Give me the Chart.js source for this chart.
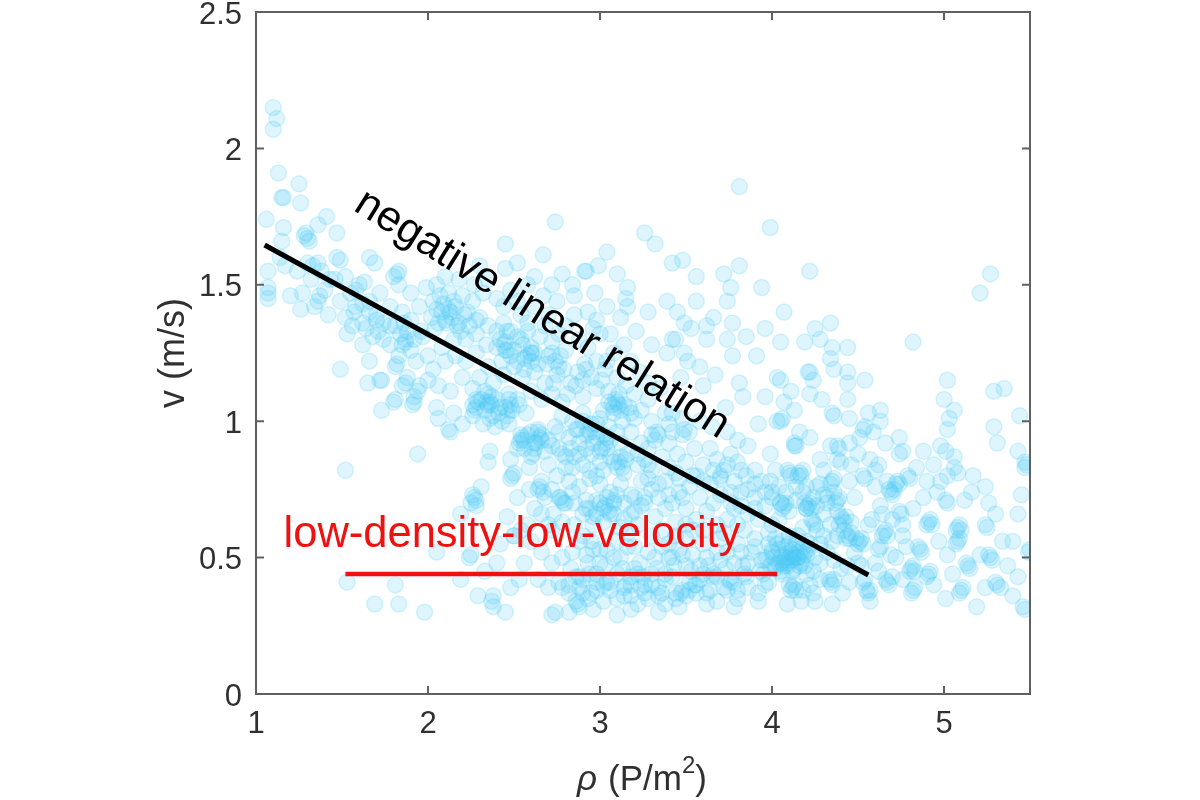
<!DOCTYPE html>
<html><head><meta charset="utf-8">
<script src="https://cdn.jsdelivr.net/npm/chart.js@4"></script>
<style>html,body{margin:0;background:#fff}#w{width:1200px;height:800px}canvas{filter:blur(0.5px)}</style></head>
<body><div id="w"><canvas id="c" width="1200" height="800"></canvas></div>
<script>
const xTicks=[1,2,3,4,5];
const yTicks=[0,0.5,1,1.5,2,2.5];
const fitLine=[[1.05,1.646],[4.56,0.436]];
const lowLine=[[1.52,0.44],[4.03,0.44]];

const rhoTopLeft=[1.10,1.12,1.10,1.13,1.25,1.16,1.15,1.26,1.06,1.16,
1.41,1.36,1.47,1.28,1.30,1.29,1.31,1.15,1.07,1.07,
1.07,1.07,1.17,1.14,1.20,1.27,1.26,1.36,1.34,1.37,
1.36,1.33,1.49,1.47,1.49,1.63,1.60,1.66,1.69,1.82,
1.80,1.83,1.53,1.62,1.62,1.74,1.71,1.87,1.85,1.97,
1.24,1.30,1.38,1.43,1.52,1.55,1.58,1.42,1.52,1.57,
1.66,1.72,1.78,1.70,1.78,1.68];
const vTopLeft=[2.15,2.11,2.07,1.91,1.87,1.82,1.82,1.80,1.74,1.71,
1.75,1.72,1.69,1.68,1.67,1.69,1.66,1.66,1.55,1.45,
1.47,1.49,1.57,1.60,1.46,1.47,1.41,1.44,1.42,1.46,
1.58,1.57,1.59,1.60,1.44,1.51,1.50,1.60,1.58,1.54,
1.53,1.55,1.32,1.36,1.28,1.30,1.33,1.30,1.28,1.31,
1.55,1.58,1.55,1.52,1.53,1.47,1.42,1.39,1.38,1.40,
1.44,1.47,1.42,1.37,1.35,1.31];

const rhoUpper=[1.83,1.90,1.95,1.99,2.03,2.08,2.10,2.06,2.12,2.14,
2.16,2.18,2.20,2.23,2.26,2.05,2.10,2.18,2.27,2.32,
2.35,2.40,2.44,2.48,2.52,2.30,2.35,2.40,2.28,2.22,
2.15,2.08,2.00,1.93,2.03,2.10,2.16,2.22,2.28,2.34,
2.40,2.45,2.48,2.43,2.50,2.56,2.60,2.65,2.68,2.58,
2.54,2.62,2.70,2.75,2.67,2.58,2.45,2.30,1.90,1.85,
1.78,1.83,1.90,1.96,2.35,2.30,2.38,2.44,2.55,2.62,
2.68,2.72,2.66,2.60,2.52,2.47,2.40,2.33,2.26,2.20,
2.13,2.06,2.00,2.45,2.46,2.44,2.52,2.48,2.45,2.55,
2.60,2.58,2.77,2.74,2.80,2.76,2.72,2.92,2.95,2.90];
const vUpper=[1.50,1.47,1.42,1.49,1.44,1.40,1.37,1.36,1.41,1.38,
1.42,1.36,1.46,1.40,1.44,1.50,1.53,1.52,1.50,1.47,
1.52,1.45,1.42,1.48,1.44,1.38,1.35,1.33,1.32,1.30,
1.30,1.27,1.24,1.22,1.19,1.22,1.24,1.22,1.25,1.28,
1.27,1.26,1.24,1.22,1.20,1.23,1.27,1.31,1.35,1.36,
1.39,1.42,1.39,1.44,1.46,1.50,1.56,1.57,1.37,1.40,
1.28,1.24,1.26,1.33,1.20,1.16,1.14,1.17,1.16,1.18,
1.14,1.10,1.08,1.11,1.08,1.10,1.08,1.11,1.12,1.16,
1.11,1.13,1.15,1.65,1.26,1.28,1.31,1.33,1.29,1.28,
1.25,1.24,1.24,1.22,1.26,1.20,1.25,1.19,1.16,1.15];

const rhoUpperMid=[2.74,3.81,3.99,3.26,3.32,2.67,3.04,2.52,3.42,3.48,
2.91,2.99,3.10,3.16,2.78,2.62,2.72,3.56,3.72,3.81,
3.76,3.74,3.94,3.39,3.56,2.85,2.97,3.16,3.28,3.45,
3.62,3.77,3.66,3.49,3.96,3.85,3.74,3.62,3.42,3.21,
3.30,3.39,3.49,3.77,3.91,3.58,3.67,3.81,3.83,3.96,
4.03,3.92,4.03,3.47,3.60,3.73,3.49,3.42,3.10,3.08,
3.12,3.09,3.07,3.11,3.33,2.98,2.96,3.00,3.06,2.90,
2.85,2.80,2.76,2.72,2.88,2.93,2.98,3.03,3.08,3.14,
3.18,3.23,3.28,3.20,3.15,3.05,2.98,3.24,3.28,3.35,
3.12,3.04,2.93,2.84,2.92,2.60,3.15,3.44,3.53,3.51];
const vUpperMid=[1.73,1.86,1.71,1.69,1.65,1.61,1.62,1.58,1.58,1.59,
1.55,1.57,1.54,1.49,1.54,1.53,1.50,1.53,1.54,1.57,
1.49,1.44,1.49,1.44,1.44,1.46,1.47,1.42,1.40,1.40,
1.35,1.36,1.38,1.36,1.34,1.31,1.30,1.30,1.30,1.33,
1.28,1.25,1.25,1.24,1.24,1.20,1.17,1.14,1.09,1.09,
1.16,0.99,1.00,1.16,1.13,1.05,0.97,1.03,1.07,1.05,
1.04,1.08,1.06,1.06,0.96,1.37,1.34,1.32,1.32,1.09,
1.39,1.35,1.32,1.29,1.30,1.27,1.22,1.19,1.25,1.28,
1.22,1.18,1.14,1.10,1.13,1.11,1.12,1.04,1.08,1.12,
1.38,1.42,1.40,1.50,1.55,1.25,1.45,1.30,1.34,1.22];

const rhoLeftLow=[1.49,1.66,1.65,1.73,1.72,1.73,1.81,1.80,1.87,1.85,
1.88,1.81,1.82,1.94,1.92,1.95,1.92,1.91,2.05,2.15,
2.06,2.13,2.12,2.20,2.28,2.27,2.29,2.26,2.36,2.35,
2.37,2.47,2.46,2.48,2.45,2.39,1.94,1.52,2.55,2.54,
2.56,2.53,2.65,2.64,2.66,2.63,2.61,2.60,2.62,2.36,
2.35,2.48,2.59,2.49,2.50,2.48,2.65,2.66,2.64,2.67,
2.78,2.77,2.79,2.59,2.52,2.31,2.27,2.26,2.28,2.25,
2.28,2.19,2.46,2.05,2.24,2.25,2.40,2.56,1.53,1.81,
1.69,1.83,1.98,2.19,2.29,2.38,2.37,2.38,2.45,2.48,
2.53,2.74,2.87,2.86,2.88,2.78,2.33,2.42,2.50,2.70];
const vLeftLow=[1.19,1.22,1.14,1.15,1.15,1.04,1.08,1.07,1.14,1.13,
1.16,1.20,1.21,1.11,1.09,1.13,1.07,1.06,1.05,1.03,
1.01,0.96,0.97,0.99,1.05,1.04,1.07,1.06,1.07,1.06,
1.09,1.04,1.02,1.06,1.05,0.98,0.88,0.82,0.94,0.95,
0.93,0.92,0.94,0.96,0.93,0.92,0.88,0.87,0.90,0.89,
0.85,0.86,0.83,0.80,0.81,0.79,0.76,0.78,0.75,0.74,
0.71,0.72,0.70,0.75,0.72,0.76,0.72,0.73,0.71,0.70,
0.69,0.66,0.65,0.52,0.50,0.51,0.48,0.48,0.41,0.40,
0.33,0.33,0.30,0.42,0.36,0.36,0.34,0.32,0.30,0.39,
0.42,0.30,0.33,0.34,0.32,0.39,0.45,0.55,0.58,0.62];

const rhoCentre=[2.78,2.84,2.90,2.95,3.00,3.05,2.92,2.98,3.03,2.88,
2.82,2.76,2.72,2.78,2.85,2.90,2.95,3.00,3.06,3.10,
3.13,3.16,3.12,3.18,3.24,3.28,3.32,3.36,3.40,3.45,
3.50,3.55,3.60,3.64,3.68,3.72,3.76,3.80,3.85,3.90,
3.52,3.58,3.48,3.65,3.74,3.80,3.86,3.40,3.30,3.20,
2.70,2.75,2.82,2.88,2.94,3.00,3.06,3.12,3.18,3.24,
3.30,3.34,3.40,3.46,3.52,3.58,3.64,3.70,3.76,3.82,
2.85,2.92,2.98,3.03,3.08,2.96,3.02,3.14,3.20,3.26,
3.32,3.38,3.44,3.50,3.56,3.62,3.68,3.74,3.80,3.86,
3.92,3.96,3.90,4.00,4.05,4.10,4.14,4.20,2.68,2.73,
2.78,2.85,2.90,2.95,2.93,2.97,3.01,3.04,2.87,2.83,
3.11,3.14,3.15,3.08,3.05,3.22,3.26,2.80,2.74,3.44];
const vCentre=[1.02,1.00,1.03,0.99,1.01,0.98,0.95,0.94,0.92,0.92,
0.94,0.96,0.91,0.88,0.87,0.84,0.88,0.85,0.87,0.83,
0.83,0.88,0.92,0.96,0.92,0.90,0.93,0.87,0.92,0.88,
0.85,0.90,0.84,0.90,0.86,0.82,0.88,0.85,0.80,0.77,
0.96,1.00,1.01,0.98,0.96,0.93,0.91,0.99,1.00,1.01,
0.84,0.80,0.78,0.76,0.79,0.77,0.74,0.77,0.73,0.78,
0.82,0.77,0.73,0.79,0.76,0.72,0.77,0.73,0.70,0.74,
0.70,0.68,0.66,0.69,0.66,0.62,0.63,0.64,0.67,0.70,
0.65,0.68,0.63,0.68,0.64,0.67,0.62,0.64,0.62,0.66,
0.64,0.69,0.72,0.74,0.70,0.67,0.71,0.68,0.72,0.66,
0.63,0.62,0.58,0.56,0.97,0.96,0.90,0.94,0.97,0.90,
0.85,0.81,0.86,0.71,0.67,0.84,0.86,0.83,0.98,0.81];

const rhoBand=[2.60,2.66,2.72,2.78,2.83,2.88,2.93,2.98,3.03,3.08,
3.13,3.18,3.23,3.28,3.33,3.38,3.43,3.48,3.53,3.58,
3.63,3.68,3.73,3.78,3.83,3.88,3.93,3.98,2.64,2.70,
2.76,2.82,2.88,2.93,2.98,3.02,3.06,3.10,3.14,3.18,
3.22,3.26,3.30,3.34,3.38,3.44,3.50,3.56,3.62,3.68,
3.74,3.80,3.86,3.92,3.96,2.72,2.82,2.96,3.10,3.18,
3.34,3.46,3.62,3.78,3.92,3.00,3.10,3.20,3.30,3.40,
3.50,3.60,3.70,3.80,3.90,2.90,3.04,3.15,3.25,3.42,
3.55,3.65,3.75,3.85,3.95,3.99,3.47,3.52,2.95,3.36];
const vBand=[0.56,0.52,0.48,0.50,0.46,0.43,0.48,0.44,0.47,0.50,
0.46,0.43,0.48,0.52,0.46,0.42,0.47,0.51,0.45,0.42,
0.47,0.52,0.46,0.41,0.47,0.52,0.45,0.41,0.42,0.39,
0.41,0.37,0.39,0.35,0.38,0.34,0.38,0.35,0.39,0.36,
0.33,0.37,0.40,0.36,0.33,0.37,0.36,0.40,0.37,0.34,
0.38,0.35,0.39,0.37,0.40,0.29,0.30,0.31,0.29,0.31,
0.30,0.32,0.33,0.32,0.34,0.53,0.56,0.54,0.58,0.55,
0.57,0.55,0.57,0.55,0.57,0.42,0.41,0.40,0.43,0.43,
0.40,0.43,0.42,0.43,0.44,0.47,0.37,0.38,0.37,0.37];

const rhoRight=[4.13,4.76,4.74,4.88,4.98,5.06,5.08,5.17,5.24,5.16,
5.12,5.26,5.30,5.24,5.25,5.43,5.45,5.47,5.47,5.48,
5.43,5.34,5.40,5.49,5.50,5.27,5.26,5.28,5.14,5.13,
5.15,5.21,5.37,5.43,5.31,5.33,5.30,5.24,5.40,5.46,
5.47,5.19,5.10,5.11,5.09,5.05,5.01,4.94,4.91,4.90,
4.92,4.81,4.82,4.80,4.83,4.82,4.81,4.83,4.86,4.87,
4.85,4.76,4.91,4.92,4.90,4.93,5.08,5.09,5.07,5.10,
5.08,5.09,5.07,5.02,4.97,4.74,4.75,4.82,4.88,5.02,
5.01,4.96,4.69,4.70,4.68,4.71,4.73,4.74,4.72,4.79,
4.80,4.67,4.63,4.53,4.54,4.45,4.35,4.34,4.36,4.38,
4.39,4.37,4.48,4.21,4.22,4.20,4.23,4.19,4.16,4.17,
4.15,4.18,4.10,4.11,4.09,4.07,4.08,4.06,4.05,4.24,
4.25,4.23,4.41,4.42,4.40,4.39,4.43,4.51,4.52,4.50,
4.53,4.49,4.44,4.45,4.43,4.46,4.65,4.66,4.64,4.67,
4.63,4.62,4.35,4.69,4.12,4.13,4.11,4.14,4.10,4.12,
4.15,4.07,4.08,4.06,4.05,4.09,4.04,4.19,4.20,4.18,
4.21,4.34,4.35,4.33,4.36,4.12,4.13,4.11,4.14,4.10,
4.56,4.57,4.55,4.54,4.53,4.67,4.68,4.66,4.70,4.45,
4.41,4.35,4.25,4.17,4.09,4.57];
const vRight=[0.91,0.89,0.88,0.89,0.91,0.87,0.81,0.80,0.76,0.74,
0.71,0.70,0.66,0.62,0.61,0.66,0.73,0.85,0.83,0.84,
0.89,0.56,0.56,0.52,0.53,0.50,0.51,0.49,0.47,0.48,
0.46,0.51,0.47,0.43,0.40,0.39,0.41,0.39,0.36,0.32,
0.31,0.32,0.38,0.39,0.37,0.44,0.35,0.40,0.44,0.43,
0.45,0.46,0.47,0.45,0.45,0.38,0.37,0.39,0.53,0.52,
0.54,0.58,0.63,0.64,0.62,0.62,0.61,0.62,0.60,0.60,
0.56,0.57,0.55,0.51,0.56,0.67,0.66,0.68,0.72,0.70,
0.71,0.74,0.74,0.73,0.75,0.75,0.78,0.77,0.77,0.80,
0.79,0.78,0.69,0.80,0.79,0.78,0.78,0.77,0.79,0.71,
0.72,0.70,0.72,0.69,0.70,0.68,0.68,0.70,0.81,0.80,
0.80,0.82,0.81,0.80,0.82,0.69,0.70,0.68,0.70,0.63,
0.62,0.64,0.64,0.63,0.65,0.62,0.65,0.56,0.57,0.55,
0.55,0.57,0.58,0.57,0.57,0.59,0.59,0.60,0.58,0.58,
0.54,0.53,0.56,0.51,0.51,0.50,0.52,0.52,0.50,0.49,
0.50,0.49,0.50,0.48,0.50,0.48,0.48,0.52,0.51,0.50,
0.53,0.41,0.40,0.42,0.42,0.39,0.40,0.38,0.38,0.40,
0.37,0.38,0.38,0.42,0.41,0.41,0.40,0.42,0.43,0.41,
0.37,0.33,0.34,0.34,0.33,0.34];

const rhoUpperRight=[4.22,5.27,5.21,4.07,4.34,4.25,4.28,4.19,4.05,4.82,
4.35,4.44,4.34,4.36,4.44,4.44,4.21,4.22,4.24,4.05,
4.11,4.22,4.29,4.07,4.13,4.05,4.06,4.35,4.36,4.45,
4.44,4.54,5.02,5.00,5.06,5.29,5.35,5.44,5.29,5.31,
5.03,5.02,4.74,4.66,4.63,4.56,4.63,4.53,4.54,4.59,
4.51,4.16,4.22,4.13,4.14,3.99,4.39,4.38,4.34,4.45,
4.50,4.38,4.57,5.01,5.06,4.40,4.30,4.28,4.46,4.60,
4.62,4.84,4.94,5.02,4.90,4.98,4.26,4.30,4.60,4.64,
4.58,4.56,4.70,4.76,4.78,4.72,4.60,4.62,4.76,4.50,
4.44,4.40,4.36,4.32,4.28,4.24,4.20,4.28,4.30,4.26,
4.15,4.18,4.10,4.06,4.02,4.00,3.97,4.02,4.06,4.12,
4.16,4.22,4.18,4.24,3.98,4.00,4.04,3.99,4.02];
const vUpperRight=[1.55,1.54,1.47,1.40,1.36,1.34,1.30,1.29,1.29,1.29,
1.27,1.27,1.23,1.19,1.18,1.14,1.18,1.18,1.15,1.15,
1.11,1.10,1.08,1.07,1.04,1.00,1.01,1.03,1.02,1.01,
1.08,1.15,1.15,1.08,1.04,1.11,1.12,1.02,0.98,0.92,
1.01,0.97,0.94,0.92,1.04,1.03,1.00,0.97,0.98,0.96,
0.94,0.96,0.94,0.92,0.91,0.88,0.90,0.91,0.91,0.92,
0.88,0.86,0.86,0.89,0.83,0.85,0.82,0.86,0.84,0.82,
0.84,0.83,0.84,0.80,0.78,0.78,0.76,0.73,0.76,0.66,
0.64,0.62,0.64,0.62,0.54,0.50,0.48,0.45,0.42,0.48,
0.47,0.46,0.49,0.52,0.48,0.45,0.44,0.42,0.58,0.60,
0.58,0.61,0.58,0.56,0.57,0.53,0.50,0.46,0.44,0.45,
0.47,0.40,0.38,0.37,0.59,0.62,0.64,0.78,0.82];

const rhoDenseUpper=[2.02,2.05,2.09,2.13,2.17,2.21,2.04,2.11,2.15,2.19,
2.07,2.12,2.24,2.28,1.84,1.87,1.81,1.88,1.92,1.86,
2.42,2.46,2.50,2.54,2.58,2.62,2.44,2.52,2.56,2.60,
2.64,2.70,2.49,2.53,2.47,2.57,2.33,2.37,2.41,2.31,
2.38,2.43,2.35,2.47,2.28,2.26,2.32,2.36,2.42,2.34,
2.75,2.79,2.83,2.87,2.69,2.73,2.81,2.86,2.91,2.78,
3.02,3.05,3.08,3.11,3.14,3.01,3.04,3.10,3.13,3.17,
1.62,1.66,1.70,1.74,1.58,1.64,1.56,1.46,1.40,1.32];
const vDenseUpper=[1.38,1.41,1.43,1.40,1.35,1.39,1.34,1.36,1.44,1.33,
1.46,1.47,1.35,1.37,1.32,1.29,1.35,1.33,1.30,1.36,
1.30,1.33,1.26,1.30,1.33,1.25,1.36,1.22,1.19,1.22,
1.21,1.24,1.04,1.06,1.08,1.03,1.04,1.06,1.03,1.08,
1.02,1.00,1.10,0.99,1.08,1.02,0.99,1.01,1.05,1.07,
1.17,1.19,1.14,1.18,1.21,1.14,1.10,1.13,1.21,1.07,
1.04,1.07,1.03,1.10,1.06,1.15,1.22,1.16,1.00,1.05,
1.43,1.40,1.39,1.36,1.48,1.34,1.35,1.52,1.48,1.52];

const rhoDenseCentre=[2.86,2.90,2.94,2.98,3.02,3.06,3.10,2.88,2.92,2.96,
3.00,3.04,3.08,3.12,2.84,2.80,2.76,2.94,2.98,3.02,
2.54,2.58,2.62,2.66,2.70,2.52,2.56,2.60,2.64,2.68,
2.94,2.98,3.02,3.06,2.96,3.00,3.04,2.92,2.90,3.08,
3.10,3.14,3.18,3.22,3.26,3.30,3.12,3.16,3.20,3.24,
3.28,3.34,3.38,3.42,3.46,3.36,3.44,3.50,3.54,3.48,
3.56,3.60,3.66,3.70,3.74,3.78,3.82,3.86,3.90,3.94,
3.60,3.66,3.72,3.78,3.84,3.90,3.96,3.70,3.76,3.82,
2.72,2.76,2.80,2.84,2.72,2.66,2.62,2.58,2.54,2.50,
3.34,3.38,3.42,3.28,3.22,3.18,3.48,3.54,3.40,3.30];
const vDenseCentre=[0.97,1.00,0.96,0.99,0.95,0.93,0.96,0.88,0.90,0.92,
0.89,0.90,0.85,0.87,0.83,0.87,0.90,0.82,0.80,0.82,
0.93,0.95,0.92,0.95,0.93,0.90,0.90,0.96,0.97,0.89,
0.68,0.71,0.68,0.66,0.65,0.70,0.72,0.71,0.66,0.70,
0.73,0.70,0.66,0.62,0.72,0.75,0.61,0.59,0.72,0.69,
0.79,0.72,0.78,0.70,0.74,0.60,0.58,0.62,0.60,0.72,
0.80,0.78,0.82,0.79,0.84,0.78,0.82,0.75,0.82,0.78,
0.60,0.70,0.59,0.68,0.60,0.68,0.74,0.80,0.74,0.69,
0.75,0.72,0.70,0.74,0.60,0.66,0.68,0.62,0.60,0.58,
0.95,1.03,0.96,0.84,0.88,1.03,0.95,0.80,0.83,0.95];

const rhoDenseLow=[3.96,4.00,4.03,4.06,4.09,4.12,4.15,4.18,4.02,4.05,
4.08,4.11,4.14,4.17,4.20,3.98,3.94,3.90,3.86,3.82,
4.01,4.04,4.07,4.10,4.13,4.16,4.19,4.22,4.25,4.28,
3.78,3.74,3.70,3.66,3.62,3.58,3.54,3.50,3.46,3.42,
3.84,3.80,3.76,3.72,3.68,3.64,3.60,3.56,3.52,3.48,
3.38,3.34,3.30,3.26,3.22,3.18,3.14,3.10,3.06,3.02,
2.98,2.94,2.90,2.86,2.82,3.12,3.16,3.20,3.24,3.28,
3.44,3.40,3.36,3.32,3.04,3.00,2.96,2.92,2.88,2.84,
4.30,4.34,4.38,4.42,4.46,4.32,4.26,4.38,4.48,4.52,
4.18,4.24,4.28,4.32,4.36,4.14,4.20,4.08,4.04,4.00];
const vDenseLow=[0.49,0.52,0.55,0.51,0.47,0.53,0.50,0.54,0.47,0.45,
0.54,0.49,0.55,0.48,0.56,0.55,0.49,0.54,0.48,0.52,
0.50,0.53,0.47,0.55,0.46,0.52,0.47,0.55,0.50,0.55,
0.48,0.52,0.49,0.44,0.50,0.47,0.51,0.47,0.53,0.50,
0.44,0.38,0.41,0.39,0.43,0.38,0.44,0.37,0.41,0.38,
0.44,0.39,0.44,0.40,0.44,0.40,0.36,0.44,0.41,0.40,
0.41,0.44,0.37,0.43,0.40,0.50,0.54,0.46,0.39,0.35,
0.35,0.50,0.54,0.50,0.53,0.48,0.53,0.51,0.56,0.52,
0.66,0.62,0.67,0.60,0.63,0.72,0.69,0.58,0.52,0.47,
0.74,0.72,0.77,0.70,0.74,0.76,0.76,0.74,0.76,0.72];

const rhoAll=[].concat(rhoTopLeft,rhoUpper,rhoUpperMid,rhoLeftLow,rhoCentre,rhoBand,rhoRight,rhoUpperRight,rhoDenseUpper,rhoDenseCentre,rhoDenseLow);
const vAll=[].concat(vTopLeft,vUpper,vUpperMid,vLeftLow,vCentre,vBand,vRight,vUpperRight,vDenseUpper,vDenseCentre,vDenseLow);
const scatterPoints=rhoAll.map((r,i)=>({x:r,y:vAll[i]}));
const toXY=a=>a.map(p=>({x:p[0],y:p[1]}));

const FONT='"Liberation Sans", Arial, sans-serif';
const INK='#303030';

const frame={id:'frame',afterDatasetsDraw(ch){
  const {ctx,chartArea:a,scales:{x,y}}=ch;
  ctx.save();
  ctx.strokeStyle='#606060';ctx.lineWidth=2;
  ctx.strokeRect(a.left,a.top,a.right-a.left,a.bottom-a.top);
  const L=8;ctx.beginPath();
  xTicks.forEach(t=>{const p=x.getPixelForValue(t);ctx.moveTo(p,a.bottom);ctx.lineTo(p,a.bottom-L);ctx.moveTo(p,a.top);ctx.lineTo(p,a.top+L);});
  yTicks.forEach(t=>{const p=y.getPixelForValue(t);ctx.moveTo(a.left,p);ctx.lineTo(a.left+L,p);ctx.moveTo(a.right,p);ctx.lineTo(a.right-L,p);});
  ctx.stroke();
  ctx.textBaseline='alphabetic';ctx.textAlign='left';
  ctx.save();
  ctx.translate(x.getPixelForValue(1.56),y.getPixelForValue(1.775));
  ctx.rotate(32*Math.PI/180);
  ctx.fillStyle='#000';ctx.font='43px '+FONT;
  ctx.fillText('negative linear relation',0,0);
  ctx.restore();
  ctx.fillStyle='#f01010';ctx.font='43.5px '+FONT;
  ctx.fillText('low-density-low-velocity',x.getPixelForValue(1.16),y.getPixelForValue(0.538));
  // x-axis title with italic rho and a raised exponent
  ctx.fillStyle=INK;
  const base=790;let px=577;
  ctx.font='italic 35px '+FONT;ctx.fillText('ρ',px,base);px=608;
  ctx.font='35px '+FONT;ctx.fillText('(P/m',px,base);px+=ctx.measureText('(P/m').width;
  ctx.font='24px '+FONT;ctx.fillText('2',px,base-17);px+=ctx.measureText('2').width;
  ctx.font='35px '+FONT;ctx.fillText(')',px,base);
  ctx.restore();
}};

new Chart(document.getElementById('c'),{
  type:'scatter',
  data:{datasets:[
    {label:'fit',type:'line',data:toXY(fitLine),borderColor:'#000',borderWidth:5,pointRadius:0,fill:false,order:0,borderCapStyle:'butt'},
    {label:'low',type:'line',data:toXY(lowLine),borderColor:'#f01010',borderWidth:4.5,pointRadius:0,fill:false,order:0,borderCapStyle:'butt'},
    {label:'samples',data:scatterPoints,pointRadius:8,pointBorderWidth:1.5,pointBackgroundColor:'rgba(70,200,245,0.18)',pointBorderColor:'rgba(70,200,245,0.2)',order:1}
  ]},
  options:{
    responsive:false,animation:false,
    layout:{padding:{top:12,right:170,left:0,bottom:0}},
    plugins:{legend:{display:false},tooltip:{enabled:false}},
    scales:{
      x:{type:'linear',min:1,max:5.5,
        afterFit(s){s.height=106;s.paddingLeft=0;s.paddingRight=0;},
        afterBuildTicks(s){s.ticks=xTicks.map(v=>({value:v}));},
        grid:{display:false,drawTicks:false},border:{display:false},
        ticks:{color:INK,font:{family:FONT,size:31},padding:12,maxRotation:0,callback:v=>String(v)},
        title:{display:false}},
      y:{type:'linear',min:0,max:2.5,
        afterFit(s){s.width=256;s.paddingTop=0;s.paddingBottom=0;},
        afterBuildTicks(s){s.ticks=yTicks.map(v=>({value:v}));},
        grid:{display:false,drawTicks:false},border:{display:false},
        ticks:{color:INK,font:{family:FONT,size:31},padding:14,labelOffset:3,callback:v=>String(v)},
        title:{display:true,text:'v (m/s)',color:INK,font:{family:FONT,size:36},padding:{top:152,bottom:0}}}
    }
  },
  plugins:[frame]
});
</script></body></html>
